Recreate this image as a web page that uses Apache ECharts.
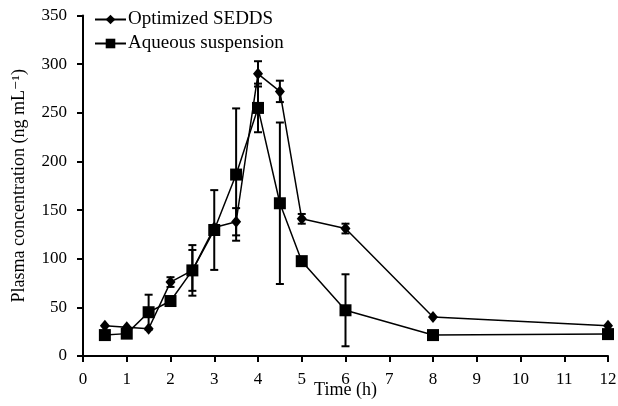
<!DOCTYPE html>
<html><head><meta charset="utf-8">
<script src="https://cdn.jsdelivr.net/npm/echarts@6/dist/echarts.min.js"></script>
<style>html,body{margin:0;padding:0;background:#fff}#c{width:618px;height:406px}</style>
</head><body><div id="c"></div>
<script>
var times = [0.5, 1, 1.5, 2, 2.5, 3, 3.5, 4, 4.5, 5, 6, 8, 12];
var seddsValues = [31, 29.5, 28, 76, 88, 132, 138, 290, 272, 141, 131, 40, 31];
var seddsErrors = [0, 0, 0, 5, 21, 0, 14, 13, 11, 5, 5, 0, 0];
var aqueousValues = [21.5, 23, 45, 56.5, 88, 129.5, 186.5, 255, 157, 97.5, 47, 21.5, 22.5];
var aqueousErrors = [0, 0, 18, 0, 26, 41, 68, 25, 83, 0, 37, 0, 0];
var xTicks = [0, 1, 2, 3, 4, 5, 6, 7, 8, 9, 10, 11, 12];
var yTicks = [0, 50, 100, 150, 200, 250, 300, 350];
var seriesNames = ['Optimized SEDDS', 'Aqueous suspension'];

var FONT = '"Liberation Serif", "DejaVu Serif", serif';

function pairs(xs, ys) { return xs.map(function (x, i) { return [x, ys[i]]; }); }
function errData(xs, ys, es) {
  var out = [];
  xs.forEach(function (x, i) { if (es[i] > 0) out.push([x, ys[i] - es[i], ys[i] + es[i]]); });
  return out;
}
function errRender(params, api) {
  var x = api.value(0), lo = api.value(1), hi = api.value(2);
  var pLo = api.coord([x, lo]), pHi = api.coord([x, hi]);
  var w = 4;
  var st = { stroke: '#000', lineWidth: 2 };
  return { type: 'group', children: [
    { type: 'line', shape: { x1: pLo[0], y1: pLo[1], x2: pHi[0], y2: pHi[1] }, style: st },
    { type: 'line', shape: { x1: pLo[0] - w, y1: pLo[1], x2: pLo[0] + w, y2: pLo[1] }, style: st },
    { type: 'line', shape: { x1: pHi[0] - w, y1: pHi[1], x2: pHi[0] + w, y2: pHi[1] }, style: st }
  ]};
}

var chart = echarts.init(document.getElementById('c'), null, { renderer: 'canvas' });
chart.setOption({
  animation: false,
  backgroundColor: '#fff',
  textStyle: { fontFamily: FONT, color: '#000' },
  grid: { left: 83, right: 10, top: 15.5, bottom: 50, containLabel: false, outerBoundsMode: 'none' },
  legend: {
    orient: 'vertical', left: 94, top: 10, itemGap: 5, itemWidth: 31, itemHeight: 12,
    padding: 0,
    data: seriesNames,
    textStyle: { fontFamily: FONT, fontSize: 19, color: '#000', padding: [0, 0, 0, -3] }
  },
  xAxis: {
    type: 'value', min: xTicks[0], max: xTicks[xTicks.length - 1], interval: 1,
    name: 'Time (h)', nameLocation: 'middle', nameGap: 25, nameMoveOverlap: false,
    nameTextStyle: { fontFamily: FONT, fontSize: 18, color: '#000' },
    axisLine: { lineStyle: { color: '#000', width: 2 } },
    axisTick: { inside: false, length: 6, lineStyle: { color: '#000', width: 2 } },
    axisLabel: { fontFamily: FONT, fontSize: 17, color: '#000', margin: 15 },
    splitLine: { show: false }
  },
  yAxis: {
    type: 'value', min: yTicks[0], max: yTicks[yTicks.length - 1], interval: 50,
    name: 'Plasma concentration (ng mL\u207B\u00B9)', nameLocation: 'middle', nameGap: 55, nameRotate: 90,
    nameMoveOverlap: false,
    nameTextStyle: { fontFamily: FONT, fontSize: 18, color: '#000' },
    axisLine: { show: true, lineStyle: { color: '#000', width: 2 } },
    axisTick: { show: true, inside: false, length: 6, lineStyle: { color: '#000', width: 2 } },
    axisLabel: { fontFamily: FONT, fontSize: 17, color: '#000', margin: 16 },
    splitLine: { show: false }
  },
  series: [
    { name: seriesNames[0], type: 'line', data: pairs(times, seddsValues),
      symbol: 'diamond', symbolSize: [10, 12], z: 3,
      lineStyle: { color: '#000', width: 1.5 }, itemStyle: { color: '#000', borderWidth: 0 } },
    { name: seriesNames[1], type: 'line', data: pairs(times, aqueousValues),
      symbol: 'rect', symbolSize: 12, z: 4,
      lineStyle: { color: '#000', width: 1.5 }, itemStyle: { color: '#000', borderWidth: 0 } },
    { type: 'custom', renderItem: errRender, data: errData(times, seddsValues, seddsErrors), z: 5, silent: true },
    { type: 'custom', renderItem: errRender, data: errData(times, aqueousValues, aqueousErrors), z: 5, silent: true }
  ]
});
</script></body></html>
